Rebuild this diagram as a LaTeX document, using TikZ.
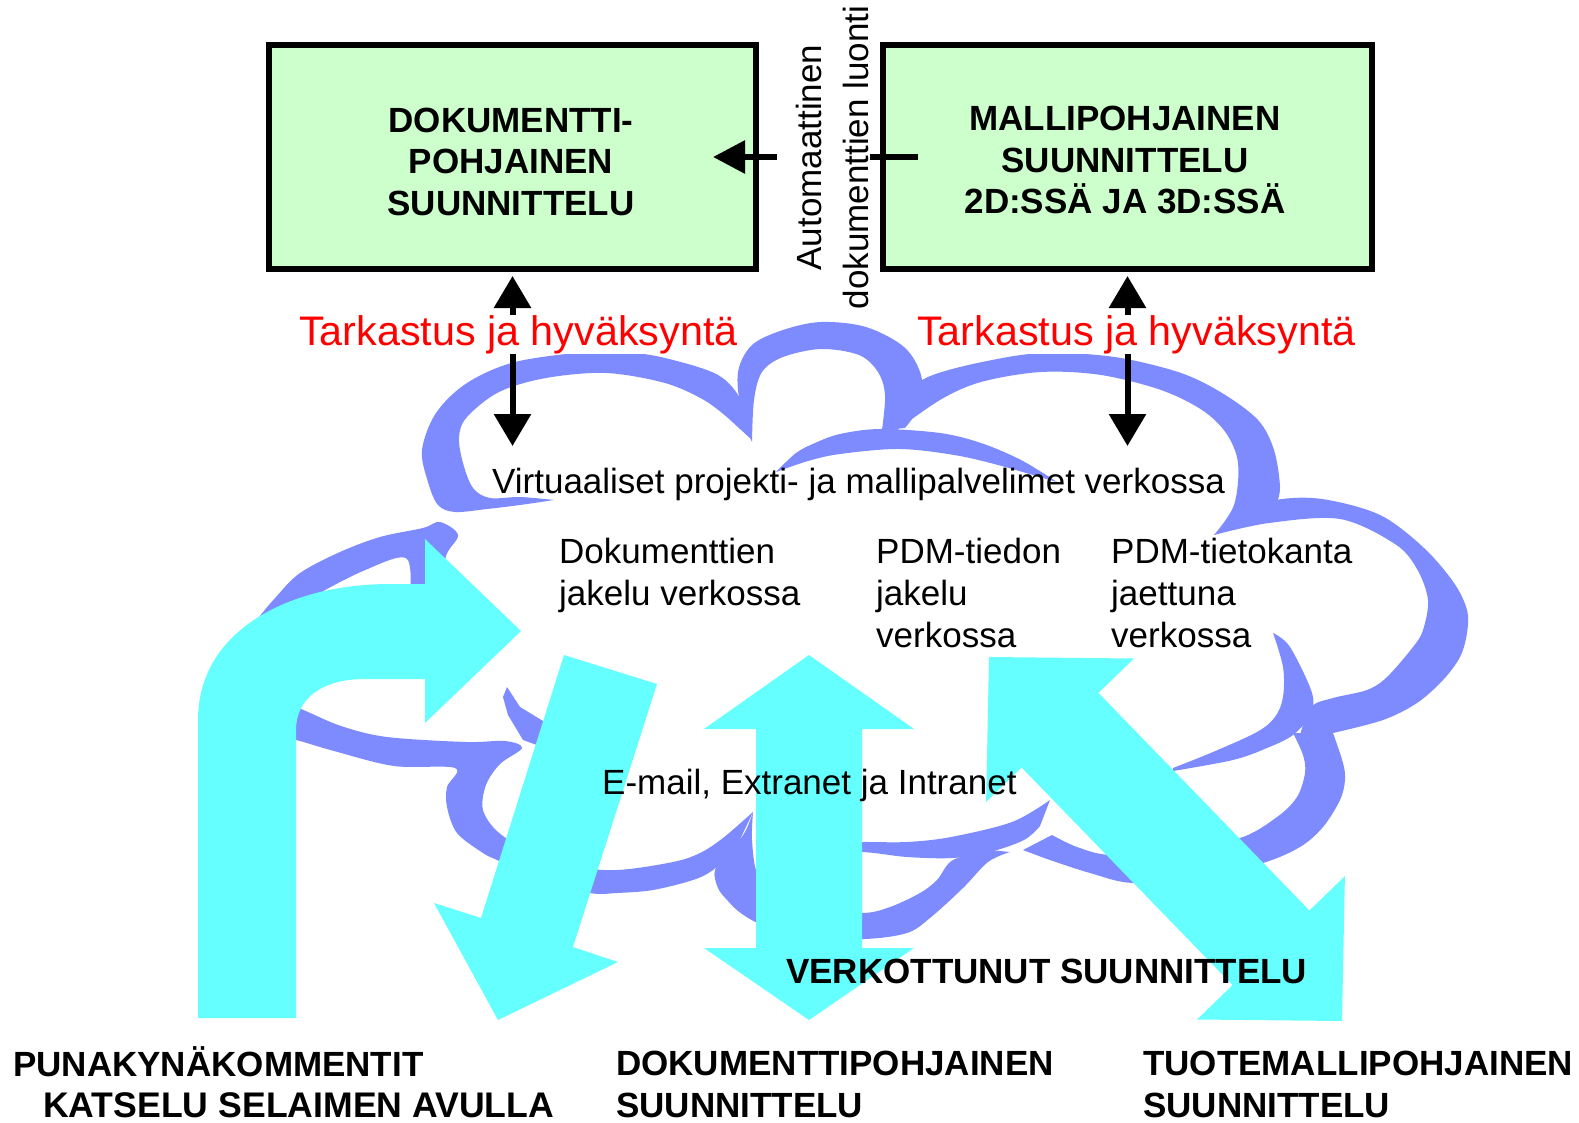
\documentclass[tikz,border=0pt]{standalone}
\usepackage{fontspec}
\setmainfont{Liberation Sans}
\usetikzlibrary{arrows.meta}
\definecolor{boxgreen}{RGB}{204,255,204}
\definecolor{cloudblue}{RGB}{125,139,255}
\definecolor{arrowcyan}{RGB}{102,255,255}
\newcommand\cband[2]{\fill[cloudblue] plot[smooth,tension=0.55] coordinates {#1} -- plot[smooth,tension=0.55] coordinates {#2} -- cycle;}
\begin{document}
\begin{tikzpicture}[x=1pt,y=-1pt,
  box/.style={draw=black, line width=6pt, fill=boxgreen, inner sep=0pt},
  boxtext/.style={font=\fontsize{35}{41.5}\selectfont\bfseries, align=center, inner sep=0pt},
  cloudtext/.style={font=\fontsize{35}{42}\selectfont, inner sep=0pt},
  redtext/.style={font=\fontsize{41.3}{49}\selectfont, text=red, fill=white, inner sep=0pt},
  boldlabel/.style={font=\fontsize{35}{41.5}\selectfont\bfseries, inner sep=0pt},
  bigarrow/.style={fill=arrowcyan},
  dblarrow/.style={line width=6pt, {Triangle[length=32pt,width=36pt]}-{Triangle[length=32pt,width=36pt]}},
  onearrow/.style={line width=6pt, -{Triangle[length=32pt,width=32pt]}},
  plainline/.style={line width=6pt}]
\useasboundingbox (0,0) rectangle (1579,1123);
\fill[white] (0,0) rectangle (1579,1123);

% boxes
\node[box, minimum width=487pt, minimum height=224pt] (docbox) at (512.5,156.6) {};
\node[box, minimum width=489pt, minimum height=224pt] (modelbox) at (1127.5,156.6) {};
\node[boxtext] (doctext) at (511,161.5) {DOKUMENTTI-\\POHJAINEN\\SUUNNITTELU};
\node[boxtext] (modeltext) at (1125,160) {MALLIPOHJAINEN\\SUUNNITTELU\\2D:SSÄ JA 3D:SSÄ};

% cloud bands
\cband{(554,500) (520,505) (487,509) (455,512) (438,505) (428,482) (422,450) (436,413) (467,383) (515,362) (586,352) (625,352) (665,358) (718,375) (742,402) (752,440)}
      {(728,418) (704,400) (665,383) (606,373) (546,378) (499,392) (467,417) (459,437) (463,463) (473,488) (490,498) (520,497) (554,500)}
\cband{(752,442) (741,410) (738,372) (752,345) (783,330) (821,322) (866,327) (904,347) (921,375) (920,405) (905,428)}
      {(882,430) (885,395) (878,372) (859,355) (821,349) (783,357) (762,372) (754,400) (752,442)}
\cband{(776,472) (796,453) (815,443) (840,434) (880,429) (940,433) (981,443) (1021,460) (1057,482)}
      {(1009,468) (960,456) (900,449) (840,454) (808,461) (776,472)}
\cband{(893,433) (905,400) (922,380) (960,367) (1021,355) (1065,353) (1121,358) (1181,373) (1222,393) (1258,420) (1274,450) (1280,487) (1276,505)}
      {(1214,535) (1234,505) (1238,463) (1226,433) (1202,410) (1161,390) (1101,375) (1041,372) (981,382) (940,400) (893,433)}
\cband{(1214,535) (1245,514) (1276,500) (1322,499) (1380,515) (1424,548) (1454,583) (1467,610) (1467,633) (1460,657) (1443,680) (1417,703) (1383,720) (1333,733)}
      {(1300,735) (1311,707) (1333,698) (1367,690) (1387,677) (1413,647) (1423,630) (1428,600) (1417,569) (1395,544) (1340,519) (1269,523) (1214,535)}
\cband{(1273,633) (1283,667) (1283,697) (1275,717) (1257,732) (1213,752) (1173,768)}
      {(1173,771) (1233,760) (1267,748) (1293,735) (1310,715) (1312,693) (1290,647) (1273,633)}
\cband{(1333,733) (1343,763) (1345,780) (1340,800) (1323,827) (1300,847) (1263,863) (1200,878) (1133,883) (1090,873) (1050,860) (1023,850)}
      {(1052,835) (1077,847) (1110,855) (1170,852) (1240,838) (1277,817) (1297,797) (1305,773) (1303,755) (1293,733)}
\cband{(800,843) (862,842) (907,842) (951,837) (1012,822) (1050,800)}
      {(1040,826) (1024,840) (990,852) (953,858) (907,857) (862,852) (800,852)}
\cband{(753,812) (745,832) (730,852) (715,870) (718,888) (728,901) (742,914) (767,927) (810,937) (865,939) (907,933) (930,918) (963,888) (988,862) (1010,852)}
      {(990,850) (953,860) (937,880) (920,893) (890,907) (862,913) (810,908) (775,895) (757,873) (752,840) (753,812)}
\cband{(268,697) (301,709) (341,726) (387,737) (466,742) (505,741) (522,748) (500,764) (486,785) (483,810) (498,832) (530,852) (570,866) (617,870) (673,862) (700,853) (723,838) (753,812)}
      {(735,850) (713,870) (693,880) (653,890) (617,893) (590,893) (540,880) (497,860) (483,853) (457,833) (447,807) (447,787) (455,768) (394,766) (334,751) (296,740) (268,735)}
\cband{(440,595) (446,556) (458,535) (440,522) (423,528) (380,537) (340,552) (300,573) (276,597) (255,623) (238,655)}
      {(262,655) (290,615) (313,597) (363,571) (406,558) (410,595)}
\fill[cloudblue] (507,687) -- (503,697) -- (508,715) -- (523,740) -- (545,748) -- (548,724) -- (520,707) -- cycle;

% cyan arrows
\fill[bigarrow] (198,1018) -- (198,720) .. controls (198,630) and (290,584) .. (390,584) -- (425,584) -- (425,539) -- (521,631) -- (425,723) -- (425,679) -- (365,679) .. controls (320,679) and (296,700) .. (296,730) -- (296,1018) -- cycle;
\fill[bigarrow] (564,655) -- (657,684) -- (573,947) -- (618,962) -- (498,1020) -- (434,903) -- (481,918) -- cycle;
\fill[bigarrow] (809,655) -- (914,729) -- (862,729) -- (862,948) -- (914,948) -- (809,1020) -- (704,948) -- (756,948) -- (756,729) -- (704,729) -- cycle;
\fill[bigarrow] (989,657) -- (1134,658.5) -- (1098.4,692.9) -- (1309.4,910.5) -- (1344.9,876.1) -- (1342,1021) -- (1197.1,1019.5) -- (1232.6,985.1) -- (1021.6,767.5) -- (986.1,801.9) -- cycle;

% black arrows
\coordinate (ltop) at (512.5,276);
\coordinate (lbot) at (512.5,446);
\coordinate (rtop) at (1127.5,276);
\coordinate (rbot) at (1127.5,446);
\draw[dblarrow] (ltop) -- (lbot);
\draw[dblarrow] (rtop) -- (rbot);
\coordinate (hstart) at (918,157);
\coordinate (hgapr) at (870,157);
\coordinate (hgapl) at (777,157);
\coordinate (htip) at (713,157);
\draw[plainline] (hstart) -- (hgapr);
\draw[onearrow] (hgapl) -- (htip);

% texts
\node[cloudtext, rotate=90, align=center] (autotext) at (832,157.5) {Automaattinen\\[5pt]dokumenttien luonti};
\node[redtext, anchor=base west] (tark1) at (299,345) {Tarkastus ja hyväksyntä};
\node[redtext, anchor=base west] (tark2) at (917,345) {Tarkastus ja hyväksyntä};
\node[cloudtext, anchor=base west] (virt) at (492,493) {Virtuaaliset projekti- ja mallipalvelimet verkossa};
\node[cloudtext, align=left, anchor=north west] (dokjak) at (559,538) {Dokumenttien\\jakelu verkossa};
\node[cloudtext, align=left, anchor=north west] (pdm1) at (876,538) {PDM-tiedon\\jakelu\\verkossa};
\node[cloudtext, align=left, anchor=north west] (pdm2) at (1111,538) {PDM-tietokanta\\jaettuna\\verkossa};
\node[cloudtext, anchor=base west] (email) at (602,794) {E-mail, Extranet ja Intranet};
\node[boldlabel, anchor=base west] (verk) at (786,983) {VERKOTTUNUT SUUNNITTELU};
\node[boldlabel, anchor=base west] (puna) at (13,1076) {PUNAKYNÄKOMMENTIT};
\node[boldlabel, font=\fontsize{35.6}{41.5}\selectfont\bfseries, anchor=base west] (katselu) at (43,1117) {KATSELU SELAIMEN AVULLA};
\node[boldlabel, align=left, anchor=north west] (dokpoh) at (616,1051) {DOKUMENTTIPOHJAINEN\\SUUNNITTELU};
\node[boldlabel, align=left, anchor=north west] (tuote) at (1143,1051) {TUOTEMALLIPOHJAINEN\\SUUNNITTELU};
\end{tikzpicture}
\end{document}
